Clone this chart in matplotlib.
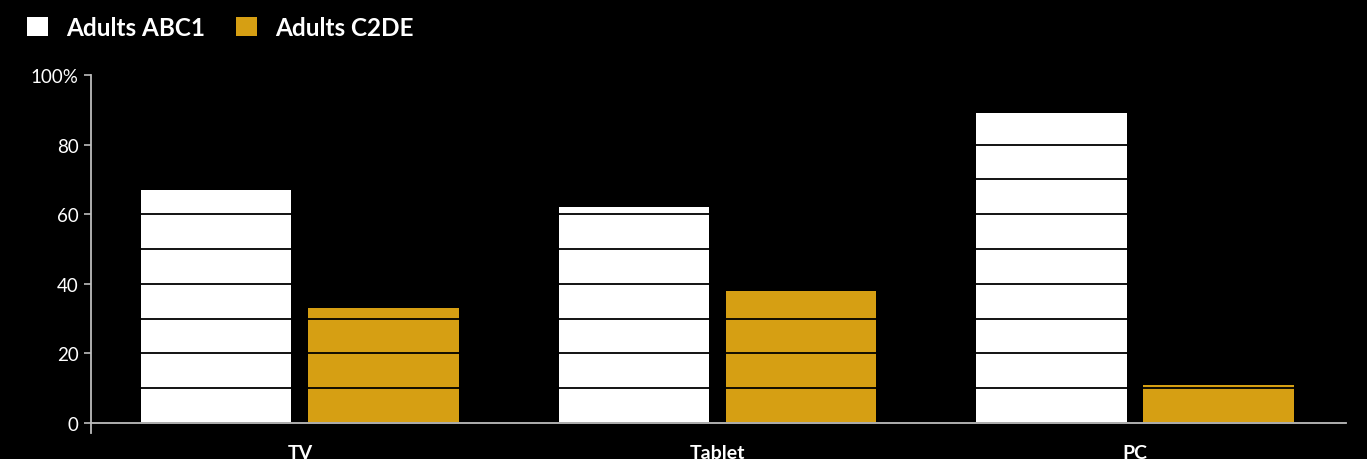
import matplotlib
matplotlib.use("Agg")
import matplotlib.pyplot as plt
import numpy as np
from matplotlib.ticker import MultipleLocator, FuncFormatter
from matplotlib.patches import Patch

plt.rcParams['font.family'] = ['Lato', 'DejaVu Sans']

devices = ['TV', 'Tablet', 'PC']
abc1 = [67, 62, 89]
c2de = [33, 38, 11]
series_names = ['Adults ABC1', 'Adults C2DE']

white = '#ffffff'
gold = '#d69f13'
axis_grey = '#bdbdbd'

fig = plt.figure(figsize=(13.67, 4.6), dpi=100, facecolor='black')
ax = fig.add_axes([91 / 1367, 36 / 460, 1255 / 1367, 348 / 460])
ax.set_facecolor('black')

x = np.arange(len(devices))
ax.bar(x - 0.2, abc1, width=0.36, color=white, zorder=1)
ax.bar(x + 0.2, c2de, width=0.36, color=gold, zorder=1)

ax.set_xlim(-0.5, 2.505)
ax.set_ylim(0, 100)

# black grid every 10 units sits on top of the bars
ax.yaxis.set_major_locator(MultipleLocator(20))
ax.yaxis.set_minor_locator(MultipleLocator(10))
ax.set_axisbelow(False)
ax.yaxis.grid(True, which='both', color='black', linewidth=1.3, zorder=2)
ax.xaxis.grid(False)
ax.tick_params(axis='y', which='minor', length=0)

ax.yaxis.set_major_formatter(FuncFormatter(lambda v, p: '100%' if v == 100 else '%d' % v))
ax.tick_params(axis='y', which='major', colors=axis_grey, labelcolor='white',
               labelsize=13.5, length=5, width=1.2, pad=4)

ax.set_xticks(x)
ax.set_xticklabels(devices, fontsize=14, fontweight='bold', color='white')
ax.tick_params(axis='x', length=0, pad=15)

for side in ['top', 'right']:
    ax.spines[side].set_visible(False)
for side in ['left', 'bottom']:
    ax.spines[side].set_color(axis_grey)
    ax.spines[side].set_linewidth(1.3)
    ax.spines[side].set_zorder(3)
ax.spines['left'].set_bounds(-3, 100)

handles = [Patch(facecolor=white, edgecolor='none'), Patch(facecolor=gold, edgecolor='none')]
leg = fig.legend(handles, series_names, loc='upper left',
                 bbox_to_anchor=(27 / 1367, 1 - 17 / 460),
                 ncol=2, frameon=False, borderpad=0, borderaxespad=0,
                 handlelength=0.86, handleheight=0.86,
                 handletextpad=0.74, columnspacing=1.3,
                 prop={'family': ['Lato', 'DejaVu Sans'], 'weight': 'bold', 'size': 17.5})
for t in leg.get_texts():
    t.set_color('white')

fig.savefig('out.png', dpi=100, facecolor='black')
